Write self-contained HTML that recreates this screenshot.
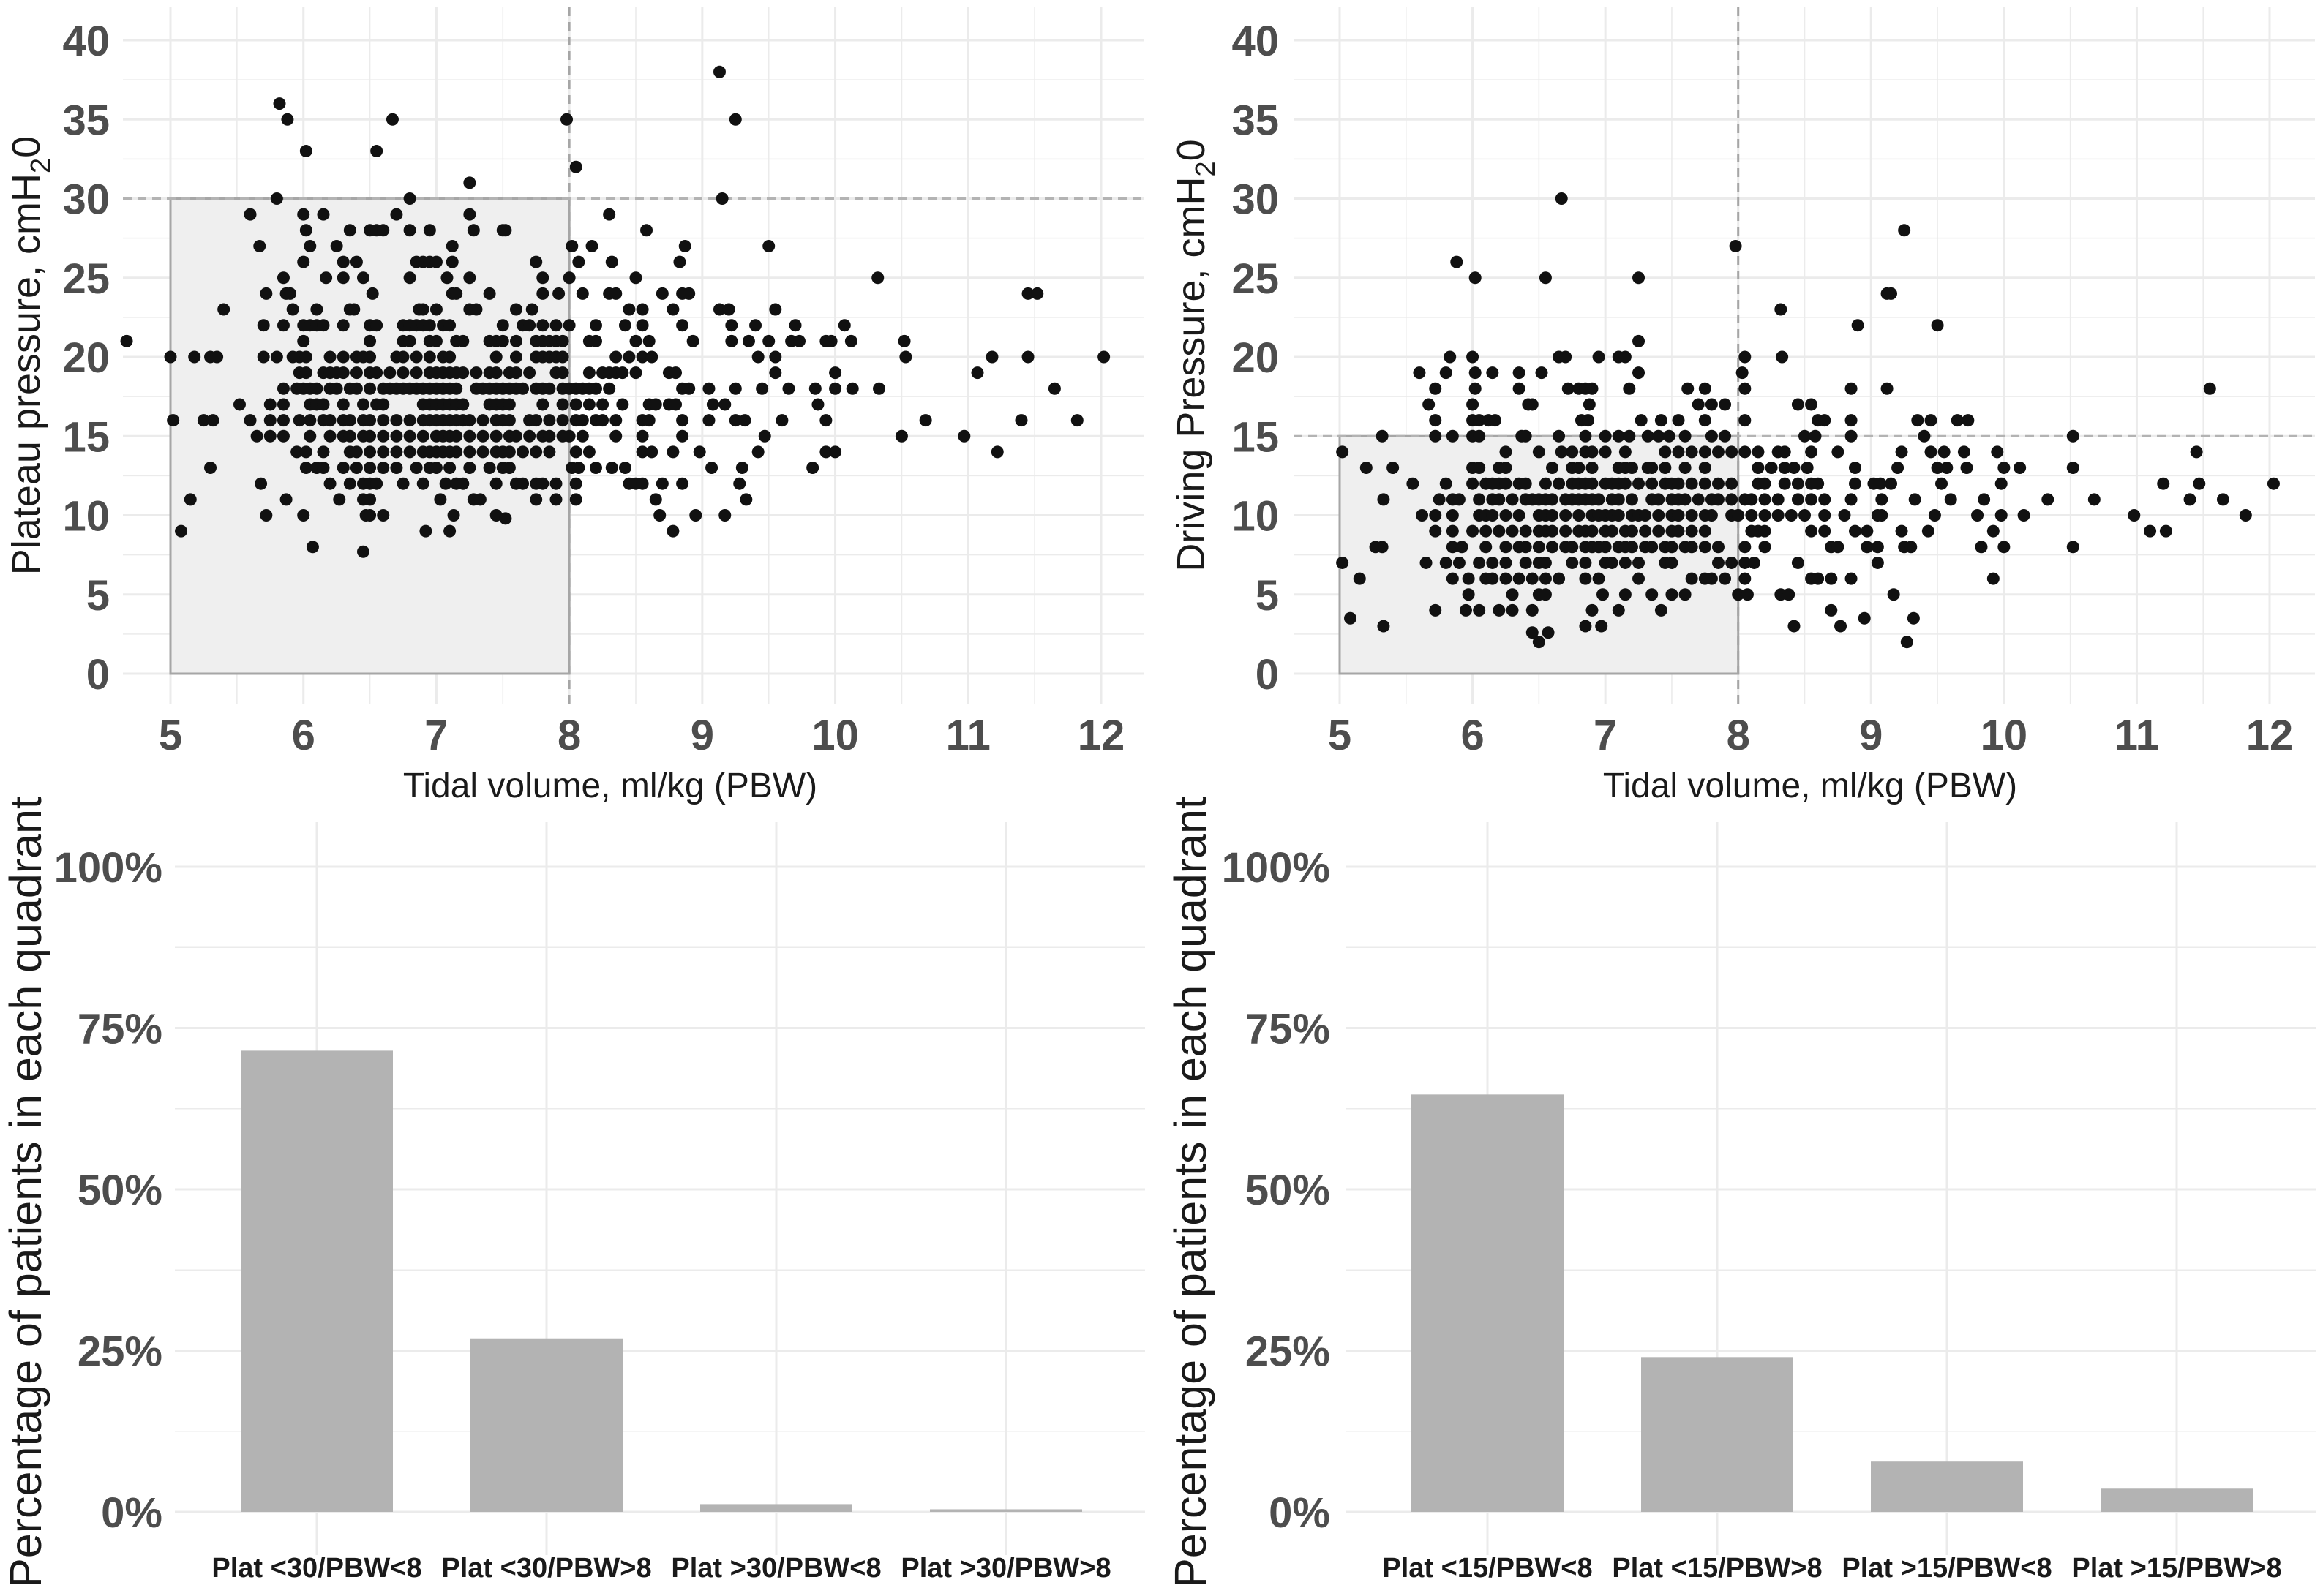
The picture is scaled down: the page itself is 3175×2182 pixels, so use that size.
<!DOCTYPE html>
<html><head><meta charset="utf-8"><style>
html,body{margin:0;padding:0;background:#fff}
svg{display:block}
.tk{font-family:"Liberation Sans Narrow","Liberation Sans",sans-serif;font-weight:bold;font-size:58px;fill:#4d4d4d}
.at{font-family:"Liberation Sans Narrow","Liberation Sans",sans-serif;font-size:48px;fill:#1a1a1a}
.yt{font-family:"Liberation Sans",sans-serif;font-size:54px;fill:#1a1a1a}
.yt2{font-family:"Liberation Sans",sans-serif;font-size:61px;fill:#1a1a1a}
.ct{font-family:"Liberation Sans",sans-serif;font-weight:bold;font-size:38px;fill:#1a1a1a}
</style></head><body>
<svg id="chart" xmlns="http://www.w3.org/2000/svg" width="3175" height="2182" viewBox="0 0 3175 2182">
<rect width="3175" height="2182" fill="#fff"/>
</svg>
<script>
// ---- data ----
const plateauRows = [
 [38,[9.13]],[36,[5.82]],[35,[5.88,6.67,7.98,9.25]],[33,[6.02,6.55]],[32,[8.05]],[31,[7.25]],
 [30,[5.8,6.8,9.15]],[29,[5.6,6.0,6.15,6.7,7.25,8.3]],
 [28,[6.35,6.5,6.55,6.6,6.8,6.95,7.28,7.5,7.52,6.02,8.58]],
 [27,[5.67,6.05,6.25,7.12,8.02,8.17,8.87,9.5]],
 [26,[6.0,6.3,6.4,6.85,6.9,6.95,7.0,7.12,7.75,8.07,8.32,8.83]],
 [25,[5.85,6.17,6.3,6.45,6.8,7.08,7.25,7.8,8.0,8.5,10.32]],
 [24,[5.72,5.87,5.9,6.52,7.12,7.15,7.4,7.8,7.92,8.1,8.3,8.35,8.7,8.85,8.9,11.45,11.52]],
 [23,[5.4,5.92,6.1,6.35,6.38,6.87,6.9,7.0,7.25,7.3,7.6,7.72,8.45,8.55,8.78,9.13,9.2,9.55]],
 [22,[5.7,5.85,6.0,6.05,6.1,6.15,6.3,6.5,6.55,6.75,6.8,6.85,6.9,6.95,7.05,7.1,7.5,7.65,7.7,7.8,7.9,8.0,8.2,8.42,8.55,8.85,9.22,9.4,9.7,10.07]],
 [21,[4.67,6.0,6.5,6.75,6.8,6.95,7.0,7.15,7.2,7.4,7.45,7.5,7.6,7.75,7.8,7.85,7.9,7.95,8.15,8.2,8.5,8.6,8.93,9.22,9.35,9.5,9.67,9.73,9.93,9.97,10.12,10.52]],
 [20,[5.0,5.18,5.3,5.35,5.7,5.8,5.92,5.97,6.02,6.2,6.3,6.4,6.45,6.5,6.7,6.75,6.85,6.95,7.05,7.1,7.45,7.6,7.75,7.8,7.85,7.9,7.95,8.35,8.45,8.55,8.62,9.42,9.55,10.53,11.18,11.45,12.02]],
 [19,[5.97,6.02,6.15,6.2,6.25,6.3,6.4,6.5,6.55,6.65,6.75,6.85,6.95,7.0,7.05,7.1,7.15,7.2,7.3,7.4,7.45,7.55,7.6,7.7,7.9,7.95,8.15,8.25,8.3,8.35,8.4,8.5,8.75,8.8,9.55,10.0,11.07]],
 [18,[5.85,5.95,6.0,6.05,6.1,6.2,6.25,6.35,6.4,6.5,6.6,6.65,6.7,6.75,6.8,6.85,6.9,6.95,7.0,7.05,7.1,7.15,7.3,7.35,7.4,7.45,7.5,7.55,7.6,7.65,7.75,7.8,7.85,7.95,8.0,8.05,8.1,8.15,8.2,8.3,8.85,8.9,9.05,9.25,9.45,9.65,9.85,10.0,10.13,10.33,11.65]],
 [17,[5.52,5.75,5.85,6.05,6.1,6.15,6.3,6.45,6.55,6.6,6.9,6.95,7.0,7.05,7.1,7.15,7.2,7.4,7.45,7.5,7.55,7.8,7.95,8.05,8.15,8.25,8.4,8.6,8.65,8.75,8.8,9.08,9.17,9.87]],
 [16,[5.02,5.25,5.32,5.6,5.75,5.85,5.97,6.05,6.15,6.2,6.3,6.35,6.45,6.5,6.6,6.7,6.8,6.9,6.95,7.0,7.05,7.1,7.15,7.2,7.25,7.35,7.45,7.5,7.55,7.7,7.75,7.85,7.95,8.05,8.1,8.2,8.25,8.35,8.55,8.6,8.85,9.05,9.25,9.32,9.6,9.93,10.68,11.4,11.82]],
 [15,[5.65,5.75,5.85,6.05,6.2,6.3,6.35,6.45,6.5,6.6,6.7,6.8,6.9,7.0,7.05,7.1,7.15,7.25,7.35,7.45,7.55,7.6,7.7,7.8,7.85,7.95,8.0,8.1,8.35,8.55,8.85,9.47,10.5,10.97]],
 [14,[5.95,6.02,6.15,6.35,6.4,6.5,6.6,6.7,6.8,6.9,6.95,7.0,7.05,7.1,7.15,7.25,7.35,7.45,7.5,7.55,7.65,7.75,7.85,8.05,8.15,8.55,8.62,8.78,8.98,9.42,9.93,10.0,11.22]],
 [13,[5.3,6.02,6.1,6.15,6.3,6.4,6.5,6.6,6.7,6.85,6.95,7.0,7.1,7.25,7.4,7.5,7.55,8.02,8.07,8.2,8.32,8.42,9.07,9.3,9.83]],
 [12,[5.68,6.2,6.35,6.45,6.5,6.55,6.75,6.9,7.07,7.15,7.2,7.45,7.6,7.65,7.75,7.8,7.9,8.05,8.45,8.5,8.55,8.7,8.85,9.28]],
 [11,[5.15,5.87,6.27,6.45,6.5,7.03,7.28,7.33,7.75,7.9,8.05,8.65,9.33]],
 [10,[5.72,6.0,6.47,6.5,6.6,7.13,7.45,8.68,8.95,9.17]],
 [9.8,[7.52]],[9,[5.08,6.92,7.1,8.78]],[8,[6.07]],[7.7,[6.45]]
];
const drivingRows = [
 [30,[6.67]],[28,[9.25]],[27,[7.98]],[26,[5.88]],[25,[6.02,6.55,7.25]],[24,[9.12,9.15]],[23,[8.32]],
 [22,[8.9,9.5]],[21,[7.25]],
 [20,[5.83,6.0,6.65,6.7,6.95,7.1,7.15,8.05,8.33]],
 [19,[5.6,5.8,6.02,6.15,6.35,6.52,7.25,8.03]],
 [18,[5.72,6.02,6.35,6.72,6.8,6.85,6.9,7.18,7.62,7.75,8.05,8.85,9.12,11.55]],
 [17,[5.67,6.0,6.42,6.45,6.88,7.7,7.8,7.9,8.45,8.55]],
 [16,[5.72,6.0,6.05,6.12,6.17,6.82,6.87,7.27,7.42,7.55,7.75,8.05,8.6,8.65,8.85,9.35,9.45,9.65,9.73]],
 [15,[5.32,5.72,5.85,6.0,6.05,6.37,6.4,6.65,6.85,7.0,7.1,7.18,7.32,7.4,7.48,7.6,7.8,7.9,8.5,8.58,8.85,9.4,10.52]],
 [14,[5.02,6.25,6.5,6.67,6.75,6.85,6.9,7.0,7.15,7.45,7.55,7.65,7.75,7.85,7.95,8.05,8.15,8.3,8.35,8.55,8.75,9.23,9.45,9.55,9.7,9.95,11.45]],
 [13,[5.2,5.4,6.0,6.05,6.2,6.25,6.6,6.75,6.8,6.9,7.1,7.15,7.2,7.32,7.35,7.45,7.6,7.75,8.15,8.25,8.35,8.42,8.52,8.88,9.2,9.5,9.57,9.72,10.0,10.12,10.52]],
 [12,[5.55,5.8,6.0,6.1,6.15,6.2,6.25,6.35,6.4,6.55,6.65,6.75,6.8,6.85,6.9,7.0,7.05,7.1,7.15,7.25,7.35,7.45,7.5,7.55,7.65,7.75,7.85,7.95,8.15,8.2,8.35,8.45,8.55,8.6,8.88,9.02,9.07,9.15,9.53,9.98,11.2,11.47,12.03]],
 [11,[5.33,5.75,5.85,5.9,6.05,6.15,6.2,6.3,6.4,6.45,6.5,6.55,6.6,6.7,6.75,6.8,6.85,6.9,6.95,7.05,7.1,7.2,7.35,7.4,7.5,7.55,7.6,7.7,7.8,7.85,7.95,8.05,8.1,8.2,8.3,8.45,8.55,8.65,8.85,9.08,9.33,9.6,9.85,10.33,10.68,11.4,11.65]],
 [10,[5.62,5.72,5.85,6.05,6.1,6.15,6.25,6.35,6.5,6.55,6.6,6.7,6.8,6.9,6.95,7.0,7.05,7.1,7.2,7.25,7.3,7.4,7.5,7.55,7.65,7.75,7.8,7.95,8.0,8.1,8.2,8.3,8.4,8.5,8.65,8.8,9.05,9.08,9.48,9.8,9.98,10.15,10.98,11.82]],
 [9,[5.72,5.85,6.0,6.1,6.2,6.3,6.4,6.5,6.55,6.6,6.7,6.8,6.85,6.9,7.0,7.05,7.15,7.2,7.3,7.4,7.5,7.55,7.65,7.75,8.1,8.15,8.2,8.55,8.65,8.88,8.97,9.23,9.43,9.92,11.1,11.22]],
 [8,[5.27,5.32,5.85,5.92,6.1,6.25,6.35,6.4,6.5,6.6,6.7,6.75,6.85,6.9,6.95,7.0,7.1,7.15,7.2,7.3,7.35,7.45,7.5,7.6,7.65,7.75,7.85,8.05,8.2,8.7,8.75,8.97,9.05,9.25,9.3,9.83,10.0,10.52]],
 [7,[5.02,5.65,5.8,5.9,6.05,6.15,6.25,6.4,6.5,6.55,6.75,6.85,7.0,7.05,7.15,7.25,7.45,7.5,7.85,7.95,8.05,8.12,8.45,9.05]],
 [6,[5.15,5.85,5.97,6.1,6.15,6.25,6.35,6.45,6.55,6.65,6.85,6.95,7.25,7.65,7.75,7.8,7.9,8.05,8.55,8.6,8.7,8.85,9.92]],
 [5,[5.97,6.3,6.5,6.55,6.98,7.15,7.35,7.5,7.6,8.0,8.07,8.32,8.38,9.17]],
 [4,[5.72,5.95,6.05,6.2,6.3,6.45,6.9,7.1,7.42,8.7]],
 [3.5,[5.08,8.95,9.32]],[3,[5.33,6.85,6.97,8.42,8.77]],[2.6,[6.45,6.57]],[2,[6.5,9.27]]
];
const xTicks = [5,6,7,8,9,10,11,12];
const yTicks = [0,5,10,15,20,25,30,35,40];
const barCatsLeft = ["Plat <30/PBW<8","Plat <30/PBW>8","Plat >30/PBW<8","Plat >30/PBW>8"];
const barValsLeft = [71.5,26.9,1.2,0.4];
const barCatsRight = ["Plat <15/PBW<8","Plat <15/PBW>8","Plat >15/PBW<8","Plat >15/PBW>8"];
const barValsRight = [64.7,24.0,7.8,3.6];
const pctTicks = [0,25,50,75,100];

const NS="http://www.w3.org/2000/svg";
const svg=document.getElementById('chart');
function mk(tag,attrs,parent,text){const e=document.createElementNS(NS,tag);for(const k in attrs)e.setAttribute(k,attrs[k]);if(text!==undefined)e.textContent=text;(parent||svg).appendChild(e);return e;}

function scatterPanel(o){
  const g=mk('g',{});
  
  
  const sx=v=>o.x5+(v-5)*(o.x12-o.x5)/7;
  const sy=v=>921+(v-0)*(55-921)/40;
  const xmin=5+(o.gl-o.x5)/((o.x12-o.x5)/7), xmax=5+(o.gr-o.x5)/((o.x12-o.x5)/7);
  for(let v=Math.ceil(xmin*2)/2; v<=xmax; v+=0.5){const l=mk('line',{x1:sx(v),x2:sx(v),y1:10,y2:963,stroke:'#ebebeb','stroke-width':Number.isInteger(v)?3:1.6},g);}
  for(let v=-2.5; v<=42; v+=2.5){if(sy(v)<10||sy(v)>963)continue;const l=mk('line',{x1:o.gl,x2:o.gr,y1:sy(v),y2:sy(v),stroke:'#ebebeb','stroke-width':(v%5===0)?3:1.6},g);}
  const r=mk('rect',{x:sx(5),y:sy(o.thr),width:sx(8)-sx(5),height:sy(0)-sy(o.thr),fill:'#efefef',stroke:'#a6a6a6','stroke-width':3},g);
  
  const d1=mk('line',{x1:sx(8),x2:sx(8),y1:10,y2:963,stroke:'#a6a6a6','stroke-width':3,'stroke-dasharray':'12 8'},g);
  
  const d2=mk('line',{x1:o.gl,x2:o.gr,y1:sy(o.thr),y2:sy(o.thr),stroke:'#b3b3b3','stroke-width':3,'stroke-dasharray':'12 8'},g);
  
  for(const [yv,xs] of o.rows){for(const xv of xs){const c=mk('circle',{cx:sx(xv),cy:sy(yv),r:8.5,fill:'#111'},g);}}
  for(const t of xTicks){const e=mk('text',{x:sx(t),y:1025,'text-anchor':'middle','class':'tk'},g,String(t));}
  for(const t of yTicks){const e=mk('text',{x:o.ylx,y:sy(t)+21,'text-anchor':'end','class':'tk'},g,String(t));}
  const xt=mk('text',{x:o.xtx,y:1090,'text-anchor':'middle','class':'at'},g,'Tidal volume, ml/kg (PBW)');
  
  const yt=mk('text',{x:0,y:0,'text-anchor':'middle','class':'yt',transform:`translate(${o.ytx},486) rotate(-90)`},g);
  
  mk('tspan',{},yt,o.ytitle+', cmH');
  mk('tspan',{'font-size':'38','dy':'14'},yt,'2');
  mk('tspan',{'dy':'-14'},yt,'0');
}
scatterPanel({name:'plateau-scatter',rows:plateauRows,thr:30,x5:233,x12:1505,gl:168,gr:1563,ylx:150,xtx:834,ytx:54,ytitle:'Plateau pressure'});
scatterPanel({name:'driving-scatter',rows:drivingRows,thr:15,x5:1831,x12:3102,gl:1768,gr:3164,ylx:1748,xtx:2474,ytx:1646,ytitle:'Driving Pressure'});

function barPanel(o){
  const g=mk('g',{});
  
  
  const sy=v=>2067+v*(1185-2067)/100;
  const sx=i=>o.c0+i*o.step;
  for(let v=-12.5; v<=112.5; v+=12.5){if(sy(v)<1124||sy(v)>2126)continue;const l=mk('line',{x1:o.gl,x2:o.gr,y1:sy(v),y2:sy(v),stroke:'#ebebeb','stroke-width':(v%25===0)?3:1.6},g);}
  o.cats.forEach((c,i)=>{const l=mk('line',{x1:sx(i),x2:sx(i),y1:1124,y2:2126,stroke:'#ebebeb','stroke-width':3},g);});
  o.vals.forEach((v,i)=>{const b=mk('rect',{x:sx(i)-104,y:sy(v),width:208,height:sy(0)-sy(v),fill:'#b3b3b3'},g);});
  o.cats.forEach((c,i)=>{const t=mk('text',{x:sx(i),y:2156,'text-anchor':'middle','class':'ct'},g,c);});
  for(const t of pctTicks){const e=mk('text',{x:o.ylx,y:sy(t)+21,'text-anchor':'end','class':'tk'},g,t+'%');}
  const yt=mk('text',{x:0,y:0,'text-anchor':'middle','class':'yt2',transform:`translate(${o.ytx},1630) rotate(-90)`},g,'Percentage of patients in each quadrant');
  
}
barPanel({name:'plateau-quadrant-bars',cats:barCatsLeft,vals:barValsLeft,c0:433,step:314,gl:239,gr:1565,ylx:222,ytx:56});
barPanel({name:'driving-quadrant-bars',cats:barCatsRight,vals:barValsRight,c0:2033,step:314,gl:1839,gr:3165,ylx:1818,ytx:1648});
</script>
</body></html>
